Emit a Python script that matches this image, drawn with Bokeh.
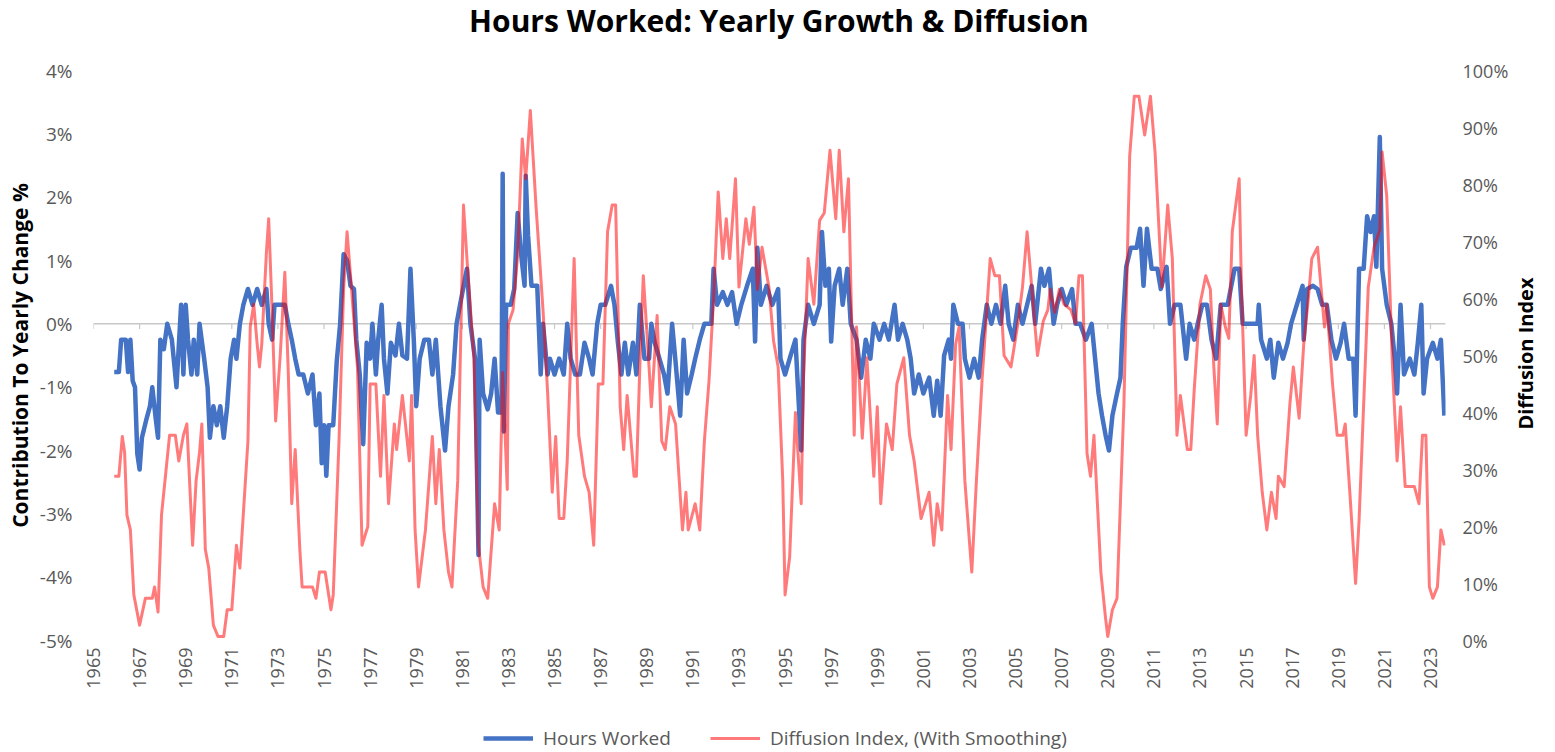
import math
from bokeh.plotting import figure
from bokeh.layouts import column
from bokeh.models import (LinearAxis, Range1d, FixedTicker, Span, Legend, LegendItem)
from bokeh.core.properties import value
from bokeh.embed import file_html
from bokeh.resources import INLINE

# ---------------- data ----------------
chart_title = "Hours Worked: Yearly Growth & Diffusion"
left_title = "Contribution To Yearly Change %"
right_title = "Diffusion Index"
year_ticks = [1965, 1967, 1969, 1971, 1973, 1975, 1977, 1979, 1981, 1983, 1985, 1987,
              1989, 1991, 1993, 1995, 1997, 1999, 2001, 2003, 2005, 2007, 2009, 2011,
              2013, 2015, 2017, 2019, 2021, 2023]
left_ticks = [-5, -4, -3, -2, -1, 0, 1, 2, 3, 4]
right_ticks = [0, 10, 20, 30, 40, 50, 60, 70, 80, 90, 100]

hours_years = [
    1965.9, 1966.1, 1966.2, 1966.4, 1966.5, 1966.6, 1966.7, 1966.8, 1966.9, 1967.0,
    1967.1, 1967.3, 1967.45, 1967.55, 1967.7, 1967.8, 1967.9, 1968.05, 1968.2, 1968.4,
    1968.6, 1968.8, 1968.9, 1969.0, 1969.1, 1969.25, 1969.35, 1969.5, 1969.6, 1969.8,
    1969.95, 1970.05, 1970.2, 1970.35, 1970.5, 1970.65, 1970.8, 1970.95, 1971.1, 1971.2,
    1971.35, 1971.5, 1971.7, 1971.9, 1972.1, 1972.3, 1972.5, 1972.6, 1972.75, 1972.85,
    1973.1, 1973.3, 1973.45, 1973.6, 1973.75, 1973.9, 1974.1, 1974.3, 1974.5, 1974.65,
    1974.8, 1974.9, 1975.0, 1975.1, 1975.2, 1975.4, 1975.55, 1975.7, 1975.85, 1976.0,
    1976.15, 1976.3, 1976.4, 1976.55, 1976.7, 1976.85, 1977.0, 1977.1, 1977.25, 1977.35,
    1977.5, 1977.6, 1977.75, 1977.9, 1978.1, 1978.25, 1978.4, 1978.6, 1978.75, 1978.9,
    1979.0, 1979.15, 1979.35, 1979.55, 1979.7, 1979.85, 1980.05, 1980.25, 1980.4, 1980.6,
    1980.75, 1980.9, 1981.2, 1981.35, 1981.55, 1981.7, 1981.75, 1981.9, 1982.1, 1982.25,
    1982.4, 1982.55, 1982.7, 1982.75, 1982.8, 1982.9, 1983.1, 1983.25, 1983.4, 1983.55,
    1983.7, 1983.75, 1983.85, 1984.0, 1984.25, 1984.4, 1984.5, 1984.7, 1984.8, 1985.0,
    1985.2, 1985.4, 1985.55, 1985.7, 1985.9, 1986.1, 1986.3, 1986.5, 1986.65, 1986.85,
    1987.0, 1987.2, 1987.45, 1987.6, 1987.75, 1987.9, 1988.05, 1988.2, 1988.4, 1988.55,
    1988.7, 1988.9, 1989.1, 1989.2, 1989.35, 1989.55, 1989.75, 1989.9, 1990.1, 1990.25,
    1990.45, 1990.6, 1990.75, 1990.95, 1991.1, 1991.3, 1991.5, 1991.8, 1991.9, 1992.05,
    1992.3, 1992.5, 1992.7, 1992.9, 1993.1, 1993.35, 1993.6, 1993.7, 1993.8, 1993.95,
    1994.2, 1994.45, 1994.7, 1994.8, 1995.0, 1995.2, 1995.45, 1995.7, 1995.8, 1996.0,
    1996.25, 1996.5, 1996.6, 1996.75, 1996.9, 1997.0, 1997.15, 1997.35, 1997.5, 1997.7,
    1997.85, 1998.1, 1998.3, 1998.5, 1998.7, 1998.85, 1999.1, 1999.3, 1999.5, 1999.75,
    1999.9, 2000.1, 2000.3, 2000.45, 2000.6, 2000.8, 2001.0, 2001.25, 2001.45, 2001.6,
    2001.75, 2001.9, 2002.1, 2002.2, 2002.3, 2002.5, 2002.7, 2002.8, 2003.0, 2003.2,
    2003.4, 2003.55, 2003.75, 2003.95, 2004.15, 2004.35, 2004.55, 2004.7, 2004.9, 2005.1,
    2005.3, 2005.5, 2005.7, 2005.85, 2006.1, 2006.25, 2006.45, 2006.65, 2006.8, 2007.0,
    2007.2, 2007.45, 2007.6, 2007.8, 2008.05, 2008.3, 2008.45, 2008.6, 2008.75, 2008.9,
    2009.05, 2009.2, 2009.4, 2009.55, 2009.65, 2009.8, 2010.0, 2010.25, 2010.4, 2010.55,
    2010.7, 2010.9, 2011.15, 2011.3, 2011.55, 2011.7, 2011.9, 2012.15, 2012.4, 2012.55,
    2012.75, 2012.9, 2013.1, 2013.3, 2013.5, 2013.7, 2013.9, 2014.2, 2014.5, 2014.7,
    2014.85, 2015.5, 2015.55, 2015.65, 2015.9, 2016.05, 2016.2, 2016.4, 2016.6, 2016.8,
    2016.95, 2017.2, 2017.45, 2017.5, 2017.65, 2017.9, 2018.1, 2018.3, 2018.5, 2018.7,
    2018.9, 2019.1, 2019.25, 2019.45, 2019.65, 2019.75, 2019.9, 2020.1, 2020.25, 2020.4,
    2020.55, 2020.65, 2020.8, 2020.9, 2021.1, 2021.3, 2021.45, 2021.55, 2021.7, 2021.85,
    2022.1, 2022.3, 2022.45, 2022.6, 2022.7, 2022.85, 2023.1, 2023.3, 2023.45, 2023.6,
]
hours_values = [
    -0.76, -0.76, -0.25, -0.25, -0.76, -0.25, -0.9, -1.0, -2.05, -2.3,
    -1.8, -1.5, -1.3, -1.0, -1.5, -1.8, -0.25, -0.4, 0.0, -0.25,
    -1.0, 0.3, -0.8, 0.3, -0.25, -0.8, -0.25, -0.8, 0.0, -0.55,
    -1.0, -1.8, -1.3, -1.6, -1.3, -1.8, -1.3, -0.55, -0.25, -0.55,
    0.0, 0.3, 0.55, 0.3, 0.55, 0.3, 0.55, 0.0, -0.25, 0.3,
    0.3, 0.3, 0.0, -0.25, -0.55, -0.8, -0.8, -1.1, -0.8, -1.6,
    -1.1, -2.2, -1.6, -2.4, -1.6, -1.6, -0.6, 0.0, 1.1, 1.0,
    0.6, 0.55, -0.25, -0.8, -1.9, -0.3, -0.55, 0.0, -0.8, -0.25,
    0.3, -0.55, -1.1, -0.3, -0.5, 0.0, -0.5, -0.55, 0.87, -0.3,
    -1.3, -0.55, -0.25, -0.25, -0.8, -0.25, -1.3, -2.0, -1.3, -0.8,
    0.0, 0.3, 0.87, 0.0, -0.55, -3.65, -0.25, -1.1, -1.35, -1.1,
    -0.55, -1.4, -1.4, 2.37, -1.7, 0.3, 0.3, 0.55, 1.75, 1.1,
    0.6, 2.34, 1.4, 0.6, 0.6, -0.8, 0.0, -0.8, -0.55, -0.8,
    -0.55, -0.8, 0.0, -0.55, -0.8, -0.8, -0.3, -0.55, -0.8, 0.0,
    0.3, 0.3, 0.6, 0.3, -0.3, -0.8, -0.3, -0.8, -0.3, -0.8,
    0.3, -0.55, -0.55, 0.0, -0.3, -0.55, -0.8, -1.1, 0.0, -0.6,
    -1.45, -0.25, -1.1, -0.8, -0.55, -0.25, 0.0, 0.0, 0.87, 0.3,
    0.5, 0.3, 0.5, 0.0, 0.3, 0.6, 0.87, -0.28, 1.2, 0.3,
    0.6, 0.3, 0.55, -0.55, -0.8, -0.55, -0.25, -2.0, -0.25, 0.3,
    0.0, 0.3, 1.45, 0.6, 0.87, -0.28, 0.6, 0.87, 0.3, 0.87,
    0.0, -0.25, -0.85, -0.25, -0.55, 0.0, -0.25, 0.0, -0.25, 0.3,
    -0.25, 0.0, -0.25, -0.55, -1.1, -0.8, -1.1, -0.85, -1.45, -0.9,
    -1.45, -0.5, -0.25, -0.55, 0.3, 0.0, 0.0, -0.55, -0.85, -0.55,
    -0.85, -0.25, 0.3, 0.0, 0.3, 0.0, 0.6, 0.0, -0.25, 0.3,
    0.0, 0.3, 0.6, 0.0, 0.87, 0.6, 0.87, 0.0, 0.3, 0.55,
    0.3, 0.55, 0.0, 0.0, -0.25, 0.0, -0.55, -1.1, -1.45, -1.75,
    -2.0, -1.45, -1.1, -0.85, 0.0, 0.9, 1.2, 1.2, 1.5, 0.6,
    1.5, 0.87, 0.87, 0.55, 0.9, 0.0, 0.3, 0.3, -0.55, 0.0,
    -0.25, 0.0, 0.3, 0.3, -0.25, -0.55, 0.3, 0.3, 0.87, 0.87,
    0.0, 0.0, 0.3, -0.25, -0.55, -0.25, -0.85, -0.3, -0.55, -0.3,
    0.0, 0.3, 0.6, -0.25, 0.55, 0.6, 0.55, 0.3, 0.3, -0.25,
    -0.55, -0.3, 0.0, -0.55, -0.55, -1.45, 0.87, 0.87, 1.7, 1.45,
    1.7, 0.9, 2.95, 0.87, 0.3, 0.0, -0.55, -1.1, 0.3, -0.8,
    -0.55, -0.8, -0.3, 0.3, -1.1, -0.55, -0.3, -0.55, -0.25, -1.45,
]

diff_years = [
    1965.9, 1966.1, 1966.25, 1966.35, 1966.45, 1966.6, 1966.75, 1967.0, 1967.25, 1967.55,
    1967.65, 1967.8, 1967.95, 1968.15, 1968.3, 1968.55, 1968.7, 1968.9, 1969.05, 1969.3,
    1969.45, 1969.6, 1969.7, 1969.85, 1970.0, 1970.2, 1970.4, 1970.65, 1970.8, 1971.0,
    1971.2, 1971.35, 1971.7, 1971.8, 1971.95, 1972.1, 1972.2, 1972.3, 1972.5, 1972.6,
    1972.75, 1972.9, 1973.1, 1973.3, 1973.45, 1973.6, 1973.75, 1973.95, 1974.05, 1974.5,
    1974.65, 1974.8, 1975.05, 1975.3, 1975.4, 1975.65, 1975.85, 1976.0, 1976.15, 1976.45,
    1976.65, 1976.9, 1977.0, 1977.25, 1977.45, 1977.6, 1977.8, 1978.05, 1978.15, 1978.4,
    1978.7, 1978.8, 1978.95, 1979.1, 1979.4, 1979.7, 1979.85, 1980.0, 1980.2, 1980.4,
    1980.55, 1980.8, 1981.05, 1981.2, 1981.5, 1981.7, 1981.9, 1982.1, 1982.4, 1982.6,
    1982.75, 1982.95, 1983.0, 1983.2, 1983.4, 1983.6, 1983.75, 1983.95, 1984.2, 1984.5,
    1984.7, 1984.9, 1985.05, 1985.2, 1985.4, 1985.55, 1985.75, 1985.85, 1986.05, 1986.3,
    1986.5, 1986.7, 1986.9, 1987.1, 1987.3, 1987.5, 1987.65, 1987.85, 1988.0, 1988.15,
    1988.45, 1988.55, 1988.7, 1988.85, 1989.1, 1989.2, 1989.45, 1989.65, 1989.8, 1990.0,
    1990.25, 1990.55, 1990.7, 1990.8, 1991.1, 1991.3, 1991.5, 1991.7, 1991.9, 1992.1,
    1992.3, 1992.45, 1992.6, 1992.85, 1993.0, 1993.3, 1993.45, 1993.65, 1993.8, 1994.0,
    1994.3, 1994.5, 1994.7, 1994.9, 1995.0, 1995.2, 1995.45, 1995.7, 1995.8, 1996.0,
    1996.25, 1996.5, 1996.7, 1996.95, 1997.2, 1997.35, 1997.55, 1997.75, 1998.0, 1998.1,
    1998.35, 1998.55, 1998.85, 1999.0, 1999.15, 1999.4, 1999.65, 1999.85, 2000.15, 2000.4,
    2000.6, 2000.9, 2001.25, 2001.45, 2001.6, 2001.8, 2002.05, 2002.2, 2002.4, 2002.55,
    2002.8, 2003.1, 2003.3, 2003.55, 2003.9, 2004.1, 2004.3, 2004.5, 2004.8, 2005.1,
    2005.3, 2005.5, 2005.7, 2005.95, 2006.2, 2006.4, 2006.5, 2006.7, 2006.9, 2007.1,
    2007.4, 2007.6, 2007.75, 2007.9, 2008.1, 2008.25, 2008.4, 2008.7, 2008.9, 2009.0,
    2009.2, 2009.4, 2009.7, 2009.95, 2010.15, 2010.35, 2010.6, 2010.85, 2011.05, 2011.35,
    2011.6, 2011.8, 2012.0, 2012.15, 2012.45, 2012.6, 2012.75, 2013.0, 2013.25, 2013.45,
    2013.6, 2013.75, 2013.9, 2014.1, 2014.25, 2014.4, 2014.7, 2014.8, 2015.0, 2015.2,
    2015.35, 2015.5, 2015.7, 2015.9, 2016.1, 2016.3, 2016.4, 2016.65, 2016.9, 2017.05,
    2017.3, 2017.5, 2017.7, 2017.85, 2018.1, 2018.4, 2018.5, 2018.75, 2018.95, 2019.2,
    2019.3, 2019.5, 2019.75, 2019.9, 2020.1, 2020.3, 2020.55, 2020.8, 2020.9, 2021.1,
    2021.35, 2021.55, 2021.7, 2021.9, 2022.3, 2022.5, 2022.65, 2022.8, 2022.95, 2023.1,
    2023.3, 2023.45, 2023.6,
]
diff_values = [
    28.8, 28.8, 35.8, 33, 22, 19.4, 8, 2.7, 7.4, 7.4,
    9.4, 5, 22, 30, 36, 36, 31.5, 36, 38, 16.7,
    28, 33, 38, 16, 12.7, 2.7, 0.7, 0.7, 5.4, 5.4,
    16.7, 12.7, 35, 55, 59, 52, 48, 52, 68, 74,
    57.6, 38.5, 50, 64.6, 47, 24, 33.5, 16, 9.4, 9.4,
    7.4, 12, 12, 5.4, 8, 35, 61.6, 71.7, 64, 48,
    16.7, 20, 45, 45, 28.8, 43, 24, 38, 33.5, 43,
    31.5, 43, 19.4, 9.4, 19.4, 35.8, 24, 33.5, 19.4, 12,
    9.4, 28, 76.4, 67, 49.6, 16.7, 9.4, 7.4, 24, 19.4,
    47, 26.5, 55.6, 58, 67.6, 88, 81, 93, 76, 58,
    43.5, 26, 35.8, 21.4, 21.4, 31.5, 55, 67, 36, 28.8,
    26, 16.7, 45, 45, 71.7, 76.4, 76.4, 40.9, 33.5, 43,
    28.8, 28.8, 48, 64, 48, 41, 57, 35, 33.5, 41,
    38, 19.4, 26, 19.4, 24, 19.4, 35, 45.5, 60, 78.7,
    67, 74, 67, 81, 62, 74, 69.5, 76, 61.6, 69,
    62, 52.6, 48, 28, 8, 14.7, 40, 24, 46, 67,
    59, 73.7, 75, 86, 74, 86, 71.7, 81, 36, 55,
    35.5, 49.6, 28.8, 41, 24, 38, 33.5, 45, 49.6, 36,
    31.5, 21.4, 26, 16.7, 24, 19.4, 43, 33.5, 52, 55,
    28, 12, 28, 46, 67, 64, 64, 50, 48, 55.6,
    62, 71.7, 62, 50, 56, 58, 61.6, 57.6, 61.6, 59,
    58, 55.6, 64, 64, 32.8, 28.8, 36, 12, 4, 0.7,
    5.4, 7.4, 41.5, 85, 95.5, 95.5, 88.7, 95.5, 85.7, 62,
    76.4, 67, 36, 43, 33.5, 33.5, 44, 59, 64, 61.6,
    48, 38, 59, 55, 53, 71.7, 81, 61.6, 36, 43,
    50, 36, 26, 19.4, 26, 21.4, 28.8, 27, 41.5, 48,
    39, 52, 60, 67, 69, 55, 59, 45, 36, 36,
    38, 26, 10, 21, 41.5, 62, 69, 72, 85.7, 78,
    48, 31.5, 41, 27, 27, 24, 36, 36, 9.4, 7.4,
    9.4, 19.4, 16.7,
]

# ---------------- styling ----------------
FONT = "Open Sans"
GREY = "#595959"
ZERO = "#C8C8C8"
BLUE = "#4472C4"
RED = "#FF0000"
RED_ALPHA = 0.52
W = 1555
RIGHT_TITLE_AT = 37     # where the bottom-to-top right title starts, on the 0-100 scale


def bare(fig):
    fig.outline_line_color = None
    fig.background_fill_color = "white"
    fig.border_fill_color = "white"
    fig.xgrid.grid_line_color = None
    fig.ygrid.grid_line_color = None


def plain_axis(ax):
    ax.axis_line_color = None
    ax.major_tick_line_color = None
    ax.minor_tick_line_color = None
    ax.major_tick_out = 0
    ax.major_tick_in = 0


# ---------------- title strip ----------------
t = figure(width=W, height=40, output_backend="svg", toolbar_location=None,
           x_range=Range1d(0, 1), y_range=Range1d(0, 1),
           x_axis_location=None, y_axis_location=None,
           min_border_left=0, min_border_right=0, min_border_top=0, min_border_bottom=0)
bare(t)
t.text(x=[0.507], y=[0.5], text=[chart_title], text_align="center", text_baseline="middle",
       text_font=value(FONT), text_font_size="30px", text_font_style="bold", text_color="#000000")

# ---------------- main chart ----------------
p = figure(width=W, height=652, output_backend="svg", toolbar_location=None,
           x_range=Range1d(1965.0, 2023.65), y_range=Range1d(-5, 4),
           min_border_left=93, min_border_right=110, min_border_top=30, min_border_bottom=52)
p.extra_y_ranges = {"diff": Range1d(0, 100)}
bare(p)

xa = p.xaxis[0]
plain_axis(xa)
xa.ticker = FixedTicker(ticks=year_ticks)
xa.major_label_overrides = {y: str(y) for y in year_ticks}
xa.major_label_orientation = math.pi / 2
xa.major_label_text_font = FONT
xa.major_label_text_font_size = "18px"
xa.major_label_text_color = GREY
xa.major_label_standoff = 7

ya = p.yaxis[0]
plain_axis(ya)
ya.ticker = FixedTicker(ticks=left_ticks)
ya.major_label_overrides = {v: f"{v}%" for v in left_ticks}
ya.major_label_text_font = FONT
ya.major_label_text_font_size = "19px"
ya.major_label_text_color = GREY
ya.major_label_standoff = 21
ya.axis_label = left_title
ya.axis_label_text_font = FONT
ya.axis_label_text_font_size = "21px"
ya.axis_label_text_font_style = "bold"
ya.axis_label_text_color = "#000000"
ya.axis_label_standoff = 3

ra = LinearAxis(y_range_name="diff")
plain_axis(ra)
ra.ticker = FixedTicker(ticks=right_ticks)
ra.major_label_overrides = {v: f"{v}%" for v in right_ticks}
ra.major_label_text_font = FONT
ra.major_label_text_font_size = "18px"
ra.major_label_text_color = GREY
ra.major_label_standoff = 17
p.add_layout(ra, "right")

# right title, reading bottom-to-top as in the reference
rt = LinearAxis(y_range_name="diff")
plain_axis(rt)
rt.ticker = FixedTicker(ticks=[RIGHT_TITLE_AT])
rt.major_label_overrides = {RIGHT_TITLE_AT: right_title}
rt.major_label_orientation = math.pi / 2
rt.major_label_text_font = FONT
rt.major_label_text_font_size = "20px"
rt.major_label_text_font_style = "bold"
rt.major_label_text_color = "#000000"
rt.major_label_standoff = 14
p.add_layout(rt, "right")

p.add_layout(Span(location=0, dimension="width", line_color=ZERO, line_width=1.5, level="underlay"))
p.segment(x0=year_ticks, y0=[0] * len(year_ticks), x1=year_ticks, y1=[-0.08] * len(year_ticks),
          line_color=ZERO, line_width=1.2)

p.line(hours_years, hours_values, line_color=BLUE, line_width=4.5, line_join="round")
p.line(diff_years, diff_values, y_range_name="diff", line_color=RED,
       line_alpha=RED_ALPHA, line_width=3, line_join="round")

# ---------------- legend strip ----------------
# the series are repeated here only as legend keys; they fall outside this strip's ranges
lg = figure(width=W, height=60, output_backend="svg", toolbar_location=None,
            x_range=Range1d(0, 1), y_range=Range1d(0, 1),
            x_axis_location=None, y_axis_location=None,
            min_border_left=0, min_border_right=0, min_border_top=0, min_border_bottom=0)
bare(lg)
k_hours = lg.line(hours_years, hours_values, line_color=BLUE, line_width=4.5)
k_diff = lg.line(diff_years, diff_values, line_color=RED, line_alpha=RED_ALPHA, line_width=3)
legend = Legend(items=[LegendItem(label="Hours Worked", renderers=[k_hours]),
                       LegendItem(label="Diffusion Index, (With Smoothing)", renderers=[k_diff])],
                orientation="horizontal", location=(390, 1),
                glyph_width=50, glyph_height=20, label_standoff=10, spacing=39,
                padding=0, margin=0, border_line_color=None, background_fill_alpha=0,
                label_text_font=FONT, label_text_font_size="19px", label_text_color=GREY)
lg.add_layout(legend)

page = column(t, p, lg, spacing=0)
open("out.html", "w").write(file_html(page, INLINE))
